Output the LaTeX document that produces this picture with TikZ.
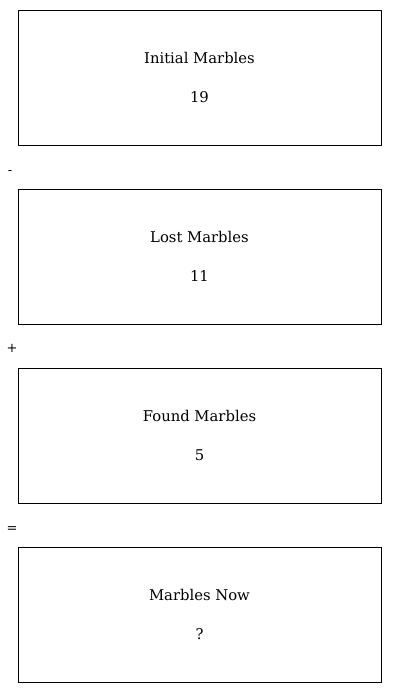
\documentclass[tikz,border=0pt]{standalone}
\usepackage{fontspec}
\setmainfont{DejaVu Serif}
\begin{document}
\begin{tikzpicture}[x=1pt, y=-1pt,
    qtybox/.style={draw=black, line width=0.8pt, minimum width=363pt, minimum height=135pt,
        align=center, inner sep=0pt, font=\fontsize{14.8}{18}\selectfont},
    opsign/.style={inner sep=0pt, font=\fontsize{13}{16}\selectfont}]

    \useasboundingbox (0,0) rectangle (400,693);

    % Quantities, top to bottom
    \node[qtybox] (initial) at (199.5,77.5)  {Initial Marbles\\[21pt]19};
    \node[qtybox] (lost)    at (199.5,256.5) {Lost Marbles\\[21pt]11};
    \node[qtybox] (found)   at (199.5,435.5) {Found Marbles\\[21pt]5};
    \node[qtybox] (now)     at (199.5,614.5) {Marbles Now\\[21pt]?};

    % Operators between the boxes
    \node[opsign] (minus) at (10,173) {-};
    \node[opsign] (plus)  at (12,348) {+};
    \node[opsign] (equal) at (12,530) {=};

\end{tikzpicture}
\end{document}
